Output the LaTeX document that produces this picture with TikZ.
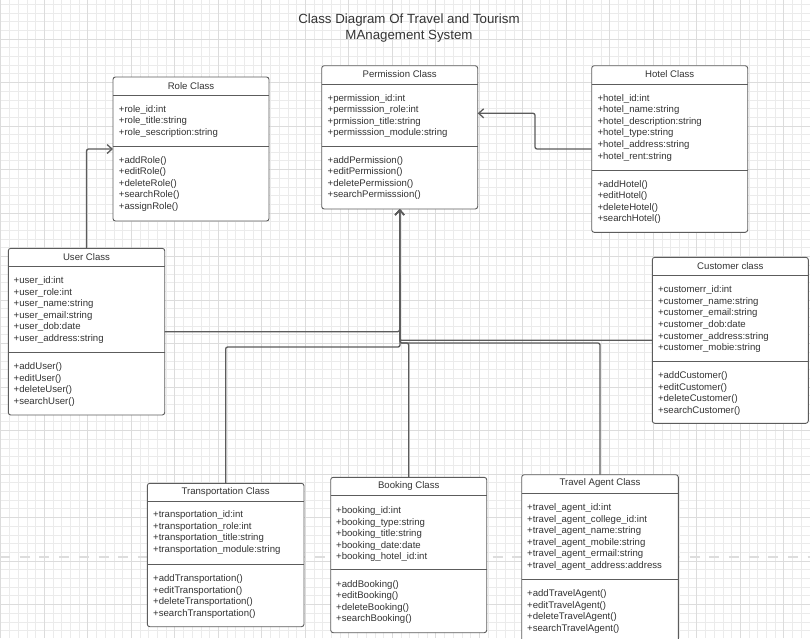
\documentclass[tikz,border=0pt]{standalone}
\usepackage{fontspec}
\setmainfont{Liberation Sans}
\usetikzlibrary{arrows.meta}
\definecolor{ink}{HTML}{333333}
\definecolor{edge}{HTML}{5C5C5C}
\definecolor{gridminor}{HTML}{EBEBEB}
\definecolor{gridmajor}{HTML}{DCDCDC}
\definecolor{breakline}{HTML}{DDDDDD}
\tikzset{
  classbox/.style={draw=edge, fill=white, line width=0.9pt, rounded corners=2.5pt, inner sep=0pt, outer sep=0pt},
  divider/.style={draw=edge, line width=0.9pt},
  headtxt/.style={font=\fontsize{9.6}{11}\selectfont, text=ink, inner sep=0pt},
  rowtxt/.style={font=\fontsize{9.6}{11}\selectfont, text=ink, anchor=west, inner sep=0pt, text height=7pt, text depth=2pt, yshift=-1.2pt},
  titletxt/.style={font=\fontsize{13.3}{16}\selectfont, text=ink, inner sep=0pt},
  conn/.style={draw=edge, line width=1.3pt, rounded corners=2pt},
  arr/.style={-{Straight Barb[length=5pt,width=9pt]}},
  minorgrid/.style={draw=gridminor, line width=0.7pt},
  majorgrid/.style={draw=gridmajor, line width=0.9pt},
  pagebreak/.style={draw=breakline, line width=2pt, dash pattern=on 10pt off 9.7pt}
}
% #1 name, #2 left, #3 top, #4 right, #5 bottom, #6 header divider, #7 member divider
\newcommand\umlbox[7]{%
  \node[classbox, minimum width={#4pt-#2pt}, minimum height={#5pt-#3pt}, anchor=north west] (#1) at (#2,#3) {};
  \draw[divider] (#2,#6) -- (#4,#6);
  \draw[divider] (#2,#7) -- (#4,#7);
}
% #1 x, #2 first y, #3 name prefix, #4 list
\newcommand\classrows[4]{%
  \foreach \t [count=\i from 0] in {#4} {
    \node[rowtxt] (#3-\i) at (#1,{#2+11.6*\i}) {\t};
  }
}
\begin{document}
\begin{tikzpicture}[x=1pt,y=-1pt]
\useasboundingbox (0,0) rectangle (810,638);
\clip (0,0) rectangle (810,638);
\fill[white] (0,0) rectangle (810,638);
% grid
\foreach \i in {0,...,93} {\draw[minorgrid] ({0.8+8.7*\i},0) -- ({0.8+8.7*\i},638);}
\foreach \i in {0,...,73} {\draw[minorgrid] (0,{4.2+8.7*\i}) -- (810,{4.2+8.7*\i});}
\foreach \i in {0,...,18} {\draw[majorgrid] ({0.8+43.5*\i},0) -- ({0.8+43.5*\i},638);}
\foreach \i in {0,...,14} {\draw[majorgrid] (0,{39+43.5*\i}) -- (810,{39+43.5*\i});}
\draw[pagebreak] (0,557) -- (810,557);

% title
\node[titletxt] (title1) at (409,20) {Class Diagram Of Travel and Tourism};
\node[titletxt] (title2) at (409,36) {MAnagement System};

% Role
\umlbox{role}{113}{77}{269}{221}{95.7}{146.7}
\node[headtxt] (role-head) at (191,85.7) {Role Class};
\classrows{118.7}{108.3}{role-a}{+role\_id:int,+role\_title:string,+role\_sescription:string}
\classrows{118.7}{159.3}{role-m}{+addRole(),+editRole(),+deleteRole(),+searchRole(),+assignRole()}

% Permission
\umlbox{perm}{321.7}{65.7}{477.7}{209}{84}{146.7}
\node[headtxt] (perm-head) at (399.7,73.7) {Permission Class};
\classrows{327.5}{97.3}{perm-a}{+permission\_id:int,+permisssion\_role:int,+prmission\_title:string,+permisssion\_module:string}
\classrows{327.5}{159.3}{perm-m}{+addPermission(),+editPermission(),+deletePermission(),+searchPermisssion()}

% Hotel
\umlbox{hotel}{591.7}{65.7}{747.7}{232.3}{84}{170}
\node[headtxt] (hotel-head) at (669.7,73.7) {Hotel Class};
\classrows{597.3}{97.3}{hotel-a}{+hotel\_id:int,+hotel\_name:string,+hotel\_description:string,+hotel\_type:string,+hotel\_address:string,+hotel\_rent:string}
\classrows{597.3}{183.3}{hotel-m}{+addHotel(),+editHotel(),+deleteHotel(),+searchHotel()}

% User
\umlbox{user}{8.3}{248.3}{164.7}{415}{266.7}{352.7}
\node[headtxt] (user-head) at (86.5,256.7) {User Class};
\classrows{13.5}{279.7}{user-a}{+user\_id:int,+user\_role:int,+user\_name:string,+user\_email:string,+user\_dob:date,+user\_address:string}
\classrows{13.5}{365.7}{user-m}{+addUser(),+editUser(),+deleteUser(),+searchUser()}

% Customer
\umlbox{cust}{652.3}{257.3}{808.3}{423.3}{275}{361.7}
\node[headtxt] (cust-head) at (730.3,265.7) {Customer class};
\classrows{657.8}{289}{cust-a}{+customerr\_id:int,+customer\_name:string,+customer\_email:string,+customer\_dob:date,+customer\_address:string,+customer\_mobie:string}
\classrows{657.8}{375}{cust-m}{+addCustomer(),+editCustomer(),+deleteCustomer(),+searchCustomer()}

% Transportation
\umlbox{trans}{147.3}{483.3}{304}{626.7}{501.7}{564.3}
\node[headtxt] (trans-head) at (225.7,491.7) {Transportation Class};
\classrows{153}{514}{trans-a}{+transportation\_id:int,+transportation\_role:int,+transportation\_title:string,+transportation\_module:string}
\classrows{153}{578}{trans-m}{+addTransportation(),+editTransportation(),+deleteTransportation(),+searchTransportation()}

% Booking
\umlbox{book}{330.7}{477.3}{486.7}{632.7}{495.7}{569.3}
\node[headtxt] (book-head) at (408.7,485.7) {Booking Class};
\classrows{336}{509.7}{book-a}{+booking\_id:int,+booking\_type:string,+booking\_title:string,+booking\_date:date,+booking\_hotel\_id:int}
\classrows{336}{583.3}{book-m}{+addBooking(),+editBooking(),+deleteBooking(),+searchBooking()}

% Travel Agent
\umlbox{agent}{521.7}{474.7}{678.3}{660}{493.3}{579}
\node[headtxt] (agent-head) at (600,482.7) {Travel Agent Class};
\classrows{527}{506.7}{agent-a}{+travel\_agent\_id:int,+travel\_agent\_college\_id:int,+travel\_agent\_name:string,+travel\_agent\_mobile:string,+travel\_agent\_ermail:string,+travel\_agent\_address:address}
\classrows{527}{592.7}{agent-m}{+addTravelAgent(),+editTravelAgent(),+deleteTravelAgent(),+searchTravelAgent()}

% connectors
\coordinate (hb) at (535,113.3);
\coordinate (jA) at (400,343);
\coordinate (jT) at (400,347);
\draw[conn,arr] (user.north) |- (role.west);
\draw[conn,arr] (hotel.west) -| (hb) -- (perm.east |- hb);
\draw[conn,arr] (user.east) -| (perm.south);
\draw[conn,arr] (cust.west) -| (perm.south);
\draw[conn,arr] (agent.north) |- (jA) -- (perm.south);
\draw[conn,arr] (book.north) |- (jA) -- (perm.south);
\draw[conn,arr] (trans.north) |- (jT) -- (perm.south);
\end{tikzpicture}
\end{document}
